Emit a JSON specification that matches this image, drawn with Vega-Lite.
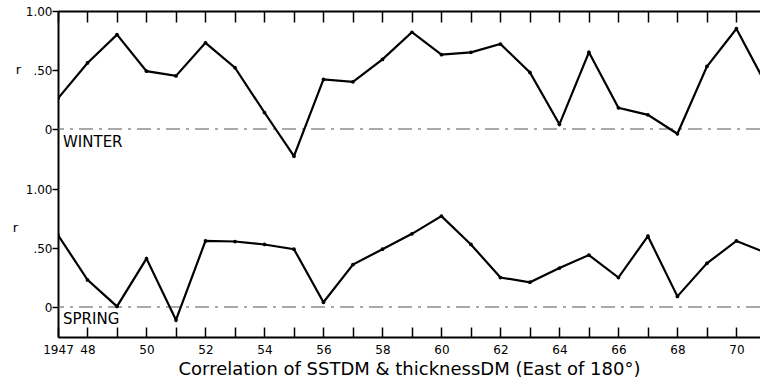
{
  "$schema": "https://vega.github.io/schema/vega-lite/v6.json",
  "autosize": {"type": "pad"},
  "padding": {"left": 12, "top": 5, "right": 0, "bottom": 0},
  "spacing": 0,
  "bounds": "flush",
  "background": "white",
  "config": {
    "view": {"stroke": null},
    "font": "DejaVu Sans",
    "axis": {
      "grid": false,
      "domainColor": "black",
      "domainWidth": 2,
      "ticks": true,
      "tickColor": "black",
      "tickWidth": 1.5,
      "labelColor": "black",
      "labelFont": "DejaVu Sans",
      "labelFontSize": 12,
      "titleFont": "DejaVu Sans",
      "titleColor": "black",
      "titleFontWeight": "normal"
    }
  },
  "datasets": {
    "winter": [
      {"year": 1947, "r": 0.26}, {"year": 1948, "r": 0.56}, {"year": 1949, "r": 0.80},
      {"year": 1950, "r": 0.49}, {"year": 1951, "r": 0.45}, {"year": 1952, "r": 0.73},
      {"year": 1953, "r": 0.52}, {"year": 1954, "r": 0.14}, {"year": 1955, "r": -0.23},
      {"year": 1956, "r": 0.42}, {"year": 1957, "r": 0.40}, {"year": 1958, "r": 0.59},
      {"year": 1959, "r": 0.82}, {"year": 1960, "r": 0.63}, {"year": 1961, "r": 0.65},
      {"year": 1962, "r": 0.72}, {"year": 1963, "r": 0.48}, {"year": 1964, "r": 0.04},
      {"year": 1965, "r": 0.65}, {"year": 1966, "r": 0.18}, {"year": 1967, "r": 0.12},
      {"year": 1968, "r": -0.04}, {"year": 1969, "r": 0.53}, {"year": 1970, "r": 0.85},
      {"year": 1971, "r": 0.38}
    ],
    "spring": [
      {"year": 1947, "r": 0.61}, {"year": 1948, "r": 0.23}, {"year": 1949, "r": 0.005},
      {"year": 1950, "r": 0.41}, {"year": 1951, "r": -0.11}, {"year": 1952, "r": 0.56},
      {"year": 1953, "r": 0.555}, {"year": 1954, "r": 0.53}, {"year": 1955, "r": 0.49},
      {"year": 1956, "r": 0.04}, {"year": 1957, "r": 0.36}, {"year": 1958, "r": 0.49},
      {"year": 1959, "r": 0.62}, {"year": 1960, "r": 0.77}, {"year": 1961, "r": 0.53},
      {"year": 1962, "r": 0.25}, {"year": 1963, "r": 0.21}, {"year": 1964, "r": 0.33},
      {"year": 1965, "r": 0.44}, {"year": 1966, "r": 0.25}, {"year": 1967, "r": 0.60},
      {"year": 1968, "r": 0.09}, {"year": 1969, "r": 0.37}, {"year": 1970, "r": 0.56},
      {"year": 1971, "r": 0.46}
    ]
  },
  "vconcat": [
    {
      "width": 702,
      "height": 178,
      "encoding": {
        "x": {
          "field": "year", "type": "quantitative",
          "scale": {"domain": [1947, 1970.8], "nice": false, "zero": false},
          "axis": {
            "orient": "top",
            "values": [1947,1948,1949,1950,1951,1952,1953,1954,1955,1956,1957,1958,1959,1960,1961,1962,1963,1964,1965,1966,1967,1968,1969,1970],
            "labels": false, "tickSize": -11, "title": null
          }
        },
        "y": {
          "field": "r", "type": "quantitative",
          "scale": {"domain": [-0.508, 1.0], "nice": false, "zero": false},
          "axis": {
            "values": [0, 0.5, 1],
            "labelExpr": "datum.value == 1 ? '1.00' : datum.value == 0.5 ? '.50' : '0'",
            "tickSize": 6, "labelPadding": 0,
            "title": "r", "titleAngle": 0, "titleX": -40, "titleY": 58,
            "titleBaseline": "middle", "titleAlign": "center", "titleFontSize": 13
          }
        }
      },
      "layer": [
        {
          "data": {"values": [{"r": 0}]},
          "mark": {"type": "rule", "strokeDash": [14, 6, 3, 6], "strokeWidth": 1.1, "color": "#555"},
          "encoding": {"x": null}
        },
        {
          "data": {"name": "winter"},
          "mark": {"type": "line", "color": "black", "strokeWidth": 2.2, "clip": true}
        },
        {
          "data": {"name": "winter"},
          "mark": {"type": "point", "filled": true, "color": "black", "size": 14, "opacity": 1, "clip": true}
        },
        {
          "data": {"values": [{"year": 1947, "r": -0.153, "label": "WINTER"}]},
          "mark": {"type": "text", "align": "left", "baseline": "alphabetic", "dx": 5, "fontSize": 15, "color": "black"},
          "encoding": {"text": {"field": "label"}}
        }
      ]
    },
    {
      "width": 702,
      "height": 148,
      "encoding": {
        "x": {
          "field": "year", "type": "quantitative",
          "scale": {"domain": [1947, 1970.8], "nice": false, "zero": false},
          "axis": {
            "orient": "bottom",
            "values": [1947,1948,1949,1950,1951,1952,1953,1954,1955,1956,1957,1958,1959,1960,1961,1962,1963,1964,1965,1966,1967,1968,1969,1970],
            "labelExpr": "datum.value == 1947 ? '1947' : (datum.value == 1948 || datum.value % 2 == 0) ? slice(toString(datum.value), 2) : ''",
            "tickSize": -10, "labelPadding": 17, "labelFlush": false, "labelOverlap": false,
            "title": "Correlation of SSTDM & thicknessDM (East of 180°)",
            "titleFontSize": 18, "titlePadding": 5
          }
        },
        "y": {
          "field": "r", "type": "quantitative",
          "scale": {"domain": [-0.254, 1.0], "nice": false, "zero": false},
          "axis": {
            "values": [0, 0.5, 1],
            "labelExpr": "datum.value == 1 ? '1.00' : datum.value == 0.5 ? '.50' : '0'",
            "tickSize": 6, "labelPadding": 0,
            "title": "r", "titleAngle": 0, "titleX": -43, "titleY": 38,
            "titleBaseline": "middle", "titleAlign": "center", "titleFontSize": 13
          }
        }
      },
      "layer": [
        {
          "data": {"values": [{"r": 0}]},
          "mark": {"type": "rule", "strokeDash": [14, 6, 3, 6], "strokeWidth": 1.1, "color": "#555"},
          "encoding": {"x": null}
        },
        {
          "data": {"name": "spring"},
          "mark": {"type": "line", "color": "black", "strokeWidth": 2.2, "clip": true}
        },
        {
          "data": {"name": "spring"},
          "mark": {"type": "point", "filled": true, "color": "black", "size": 14, "opacity": 1, "clip": true}
        },
        {
          "data": {"values": [{"year": 1947, "r": -0.145, "label": "SPRING"}]},
          "mark": {"type": "text", "align": "left", "baseline": "alphabetic", "dx": 5, "fontSize": 15, "color": "black"},
          "encoding": {"text": {"field": "label"}}
        }
      ]
    }
  ]
}
